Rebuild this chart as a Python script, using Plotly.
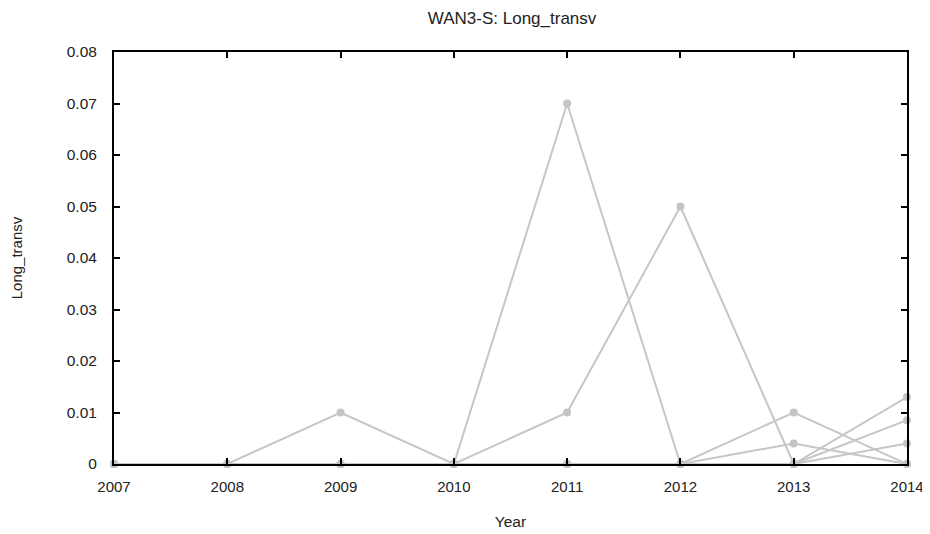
import plotly.graph_objects as go

years = [2007, 2008, 2009, 2010, 2011, 2012, 2013, 2014]
s1 = [0, 0, 0.01, 0, 0.07, 0, 0.01, 0]
s2 = [0, 0, 0, 0, 0.01, 0.05, 0, 0.013]
s3 = [0, 0, 0, 0, 0, 0, 0.004, 0]
s4 = [0, 0, 0, 0, 0, 0, 0, 0.0085]
s5 = [0, 0, 0, 0, 0, 0, 0, 0.004]
series = [s1, s2, s3, s4, s5]

y_ticks = [0, 0.01, 0.02, 0.03, 0.04, 0.05, 0.06, 0.07, 0.08]
y_ticklabels = ["0", "0.01", "0.02", "0.03", "0.04", "0.05", "0.06", "0.07", "0.08"]

fig = go.Figure()
for s in series:
    fig.add_trace(go.Scatter(
        x=years, y=s, mode="lines+markers",
        line=dict(color="#c6c6c6", width=2),
        marker=dict(color="#c4c4c4", size=8, symbol="circle"),
        showlegend=False, cliponaxis=False,
    ))

fam = "Liberation Sans, Arial, sans-serif"
font = dict(family=fam, size=15, color="#222222")
fig.update_layout(
    width=930, height=534,
    margin=dict(l=106, r=31, t=44, b=78),
    paper_bgcolor="white", plot_bgcolor="white",
    font=font,
    title=dict(text="WAN3-S: Long_transv", x=0.542, xanchor="center", y=0.981, yanchor="middle",
               font=dict(family=fam, size=17, color="#222222")),
    xaxis=dict(
        range=[2007, 2014], tickmode="array", tickvals=years, ticktext=[str(y) for y in years],
        showgrid=False, zeroline=False, showline=True, linecolor="black", linewidth=2,
        mirror="ticks", ticks="inside", ticklen=6, tickcolor="black", tickwidth=2,
        tickfont=dict(family=fam, size=15, color="#222222"), ticklabelstandoff=8,
        automargin=False,
        title=dict(text="Year", standoff=22, font=dict(family=fam, size=15.5, color="#222222")),
    ),
    yaxis=dict(
        range=[0, 0.08], tickmode="array", tickvals=y_ticks, ticktext=y_ticklabels,
        showgrid=False, zeroline=False, showline=True, linecolor="black", linewidth=2,
        mirror="ticks", ticks="inside", ticklen=6, tickcolor="black", tickwidth=2,
        tickfont=dict(family=fam, size=15.5, color="#222222"), ticklabelstandoff=12,
        automargin=False,
        title=dict(text="Long_transv", standoff=41, font=dict(family=fam, size=15, color="#222222")),
    ),
)

fig.write_html("out.html")
